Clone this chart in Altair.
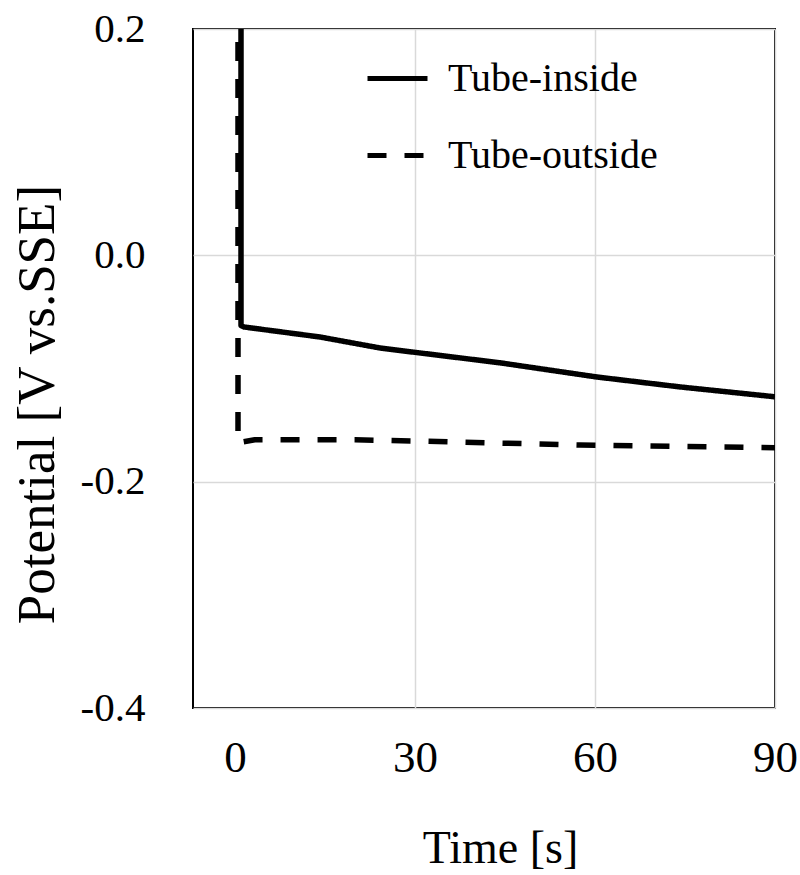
import altair as alt
import pandas as pd

series_names = ["Tube-inside", "Tube-outside"]

inside_t = [1.0, 1.0, 1.5, 14.2, 24.2, 29.5, 44.2, 60.3, 74.2, 90.0]
inside_v = [0.45, -0.062, -0.0633, -0.0722, -0.0819, -0.0854, -0.095, -0.1075, -0.1163, -0.125]

outside_t = [0.5, 0.5, 1.2, 3.3, 10.0, 20.0, 29.5, 45.0, 57.5, 62.5, 75.0, 90.0]
outside_v = [0.45, -0.166, -0.165, -0.163, -0.163, -0.163, -0.164, -0.166, -0.1676, -0.168, -0.169, -0.170]

x_ticks = [0, 30, 60, 90]
y_ticks = [-0.4, -0.2, 0.0, 0.2]

rows = []
for i, (t, v) in enumerate(zip(inside_t, inside_v)):
    rows.append({"series": series_names[0], "t": t, "v": v, "i": i})
for i, (t, v) in enumerate(zip(outside_t, outside_v)):
    rows.append({"series": series_names[1], "t": t, "v": v, "i": i})
df = pd.DataFrame(rows)

FONT = "Liberation Serif"

chart = alt.Chart(df).mark_line(clip=True, strokeWidth=5.5, strokeJoin="round", color="black").encode(
    x=alt.X("t:Q",
            scale=alt.Scale(domain=[-7, 90], nice=False, zero=False),
            axis=alt.Axis(values=x_ticks, format="d", title="Time [s]",
                          ticks=False, tickSize=0, domain=False, labelPadding=27,
                          labelFlush=False, labelFont=FONT, labelFontSize=45, labelColor="black",
                          titleFont=FONT, titleFontSize=46, titleFontWeight="normal", titleColor="black",
                          titleX=307, titleY=154, titleBaseline="alphabetic", titleAnchor="start", titleAlign="center",
                          grid=True, gridColor="#d9d9d9", gridWidth=1.5,
                          gridOpacity={"condition": {"test": "datum.value === 0", "value": 0}, "value": 1})),
    y=alt.Y("v:Q",
            scale=alt.Scale(domain=[-0.4, 0.2], nice=False, zero=False),
            axis=alt.Axis(values=y_ticks, title="Potential [V vs.SSE]",
                          labelExpr="replace(format(datum.value, '.1f'), '\u2212', '-')",
                          ticks=False, tickSize=0, domain=False, labelPadding=48,
                          labelFlush=False, labelFont=FONT, labelFontSize=41, labelColor="black",
                          titleFont=FONT, titleFontSize=53, titleFontWeight="normal", titleColor="black",
                          titleX=-140, titleY=375, titleBaseline="alphabetic", titleAngle=-90,
                          titleAnchor="start", titleAlign="center",
                          grid=True, gridColor="#d9d9d9", gridWidth=1.5)),
    strokeDash=alt.StrokeDash("series:N",
                              scale=alt.Scale(domain=series_names, range=[[1, 0], [19, 18]]),
                              legend=alt.Legend(title=None, orient="none", legendX=172, legendY=17,
                                                padding=0, symbolType="stroke", symbolSize=3600,
                                                symbolStrokeWidth=5, symbolStrokeColor="black",
                                                labelFont=FONT, labelFontSize=40, labelColor="black",
                                                labelOffset=18, labelLimit=400, rowPadding=24)),
    order=alt.Order("i:Q"),
).properties(
    width=582, height=679,
    autosize=alt.AutoSizeParams(type="none"),
    padding={"left": 193, "top": 29, "right": 25, "bottom": 167},
    background="white",
).configure_view(stroke="black", strokeWidth=2)

chart.save("out.html", embed_options={"renderer": "svg", "actions": False})
